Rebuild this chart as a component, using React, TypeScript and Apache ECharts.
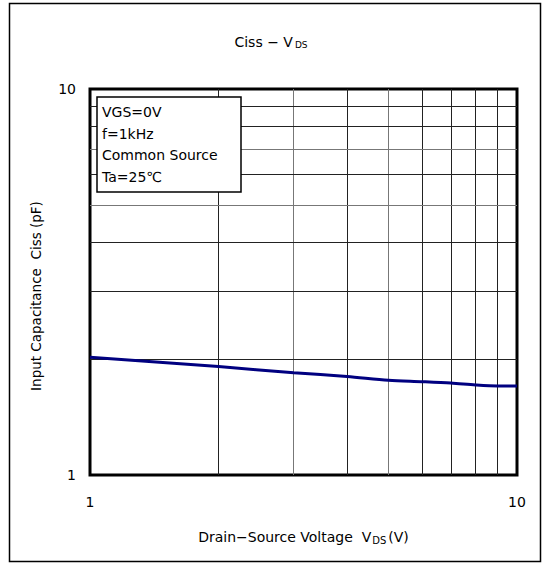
import React, { useEffect, useRef } from "react";
import * as echarts from "echarts";

const vds = [1, 2, 3, 4, 5, 6, 7, 8, 9, 10];
const ciss = [2.02, 1.91, 1.84, 1.8, 1.76, 1.745, 1.73, 1.71, 1.7, 1.7];
const xGrid = [2, 3, 4, 5, 6, 7, 8, 9];
const yGrid = [2, 3, 4, 5, 6, 7, 8, 9];
const legendLines = ["VGS=0V", "f=1kHz", "Common Source", "Ta=25℃"];

const FONT = "DejaVu Sans";

export default function App() {
  const ref = useRef<HTMLDivElement>(null);
  useEffect(() => {
    if (!ref.current) return;
    const chart = echarts.init(ref.current, undefined, { renderer: "svg" });
    chart.setOption({
      animation: false,
      backgroundColor: "#fff",
      textStyle: { fontFamily: FONT, color: "#000" },
      title: {
        text: "Ciss − V{sub|DS}",
        left: "center",
        top: 29,
        textStyle: {
          fontFamily: FONT,
          fontSize: 14,
          fontWeight: "normal",
          color: "#000",
          rich: { sub: { fontSize: 9, verticalAlign: "bottom", padding: [6, 0, 0, 2], fontFamily: FONT } },
        },
      },
      grid: {
        left: 90,
        top: 89,
        right: 25,
        bottom: 89,
        show: true,
        borderColor: "#000",
        borderWidth: 3,
        backgroundColor: "#fff",
      },
      xAxis: {
        type: "log",
        logBase: 10,
        min: 1,
        max: 10,
        name: "Drain−Source Voltage  V{sub|DS}(V)",
        nameLocation: "middle",
        nameGap: 54,
        nameTextStyle: {
          fontFamily: FONT,
          fontSize: 14,
          color: "#000",
          rich: { sub: { fontSize: 10, verticalAlign: "bottom", padding: [6, 2, 0, 1], fontFamily: FONT } },
        },
        axisLine: { show: false },
        axisTick: { show: false },
        splitLine: { show: false },
        axisLabel: { fontFamily: FONT, fontSize: 14, color: "#000", margin: 20 },
      },
      yAxis: {
        type: "log",
        logBase: 10,
        min: 1,
        max: 10,
        name: "Input Capacitance  Ciss (pF)",
        nameLocation: "middle",
        nameGap: 47,
        nameTextStyle: { fontFamily: FONT, fontSize: 13.5, color: "#000", padding: [0, 28, 0, 0] },
        axisLine: { show: false },
        axisTick: { show: false },
        splitLine: { show: false },
        axisLabel: { fontFamily: FONT, fontSize: 14, color: "#000", margin: 14 },
      },
      graphic: [
        {
          type: "rect",
          shape: { x: 9.5, y: 3.5, width: 531, height: 558 },
          style: { fill: "none", stroke: "#000", lineWidth: 1.5 },
          silent: true,
          z: 100,
        },
        {
          type: "rect",
          z: 100,
          shape: { x: 97, y: 97, width: 144, height: 95 },
          style: { fill: "#fff", stroke: "#000", lineWidth: 1.5 },
        },
        ...legendLines.map((t, i) => ({
          type: "text",
          z: 101,
          x: 102,
          y: 112 + i * 21.5,
          style: {
            text: t,
            fontFamily: FONT,
            fontSize: 14,
            fill: "#000",
            verticalAlign: "middle",
          },
        })),
      ],
      series: [
        {
          type: "line",
          data: vds.map((x, i) => [x, ciss[i]]),
          smooth: 0.3,
          symbol: "none",
          lineStyle: { color: "#000080", width: 3 },
          z: 10,
          markLine: {
            silent: true,
            symbol: "none",
            label: { show: false },
            animation: false,
            data: [
              ...xGrid.map((v) => ({ xAxis: v, lineStyle: { color: v === 3 || v === 5 ? "#777" : "#222", width: 1, type: "solid" } })),
              ...yGrid.map((v) => ({ yAxis: v, lineStyle: { color: v === 7 || v === 5 ? "#777" : "#222", width: 1, type: "solid" } })),
            ],
          },
        },
      ],
    });
    return () => chart.dispose();
  }, []);
  return (
    <div
      ref={ref}
      style={{ position: "fixed", left: 0, top: 0, width: 542, height: 564, background: "#fff" }}
    />
  );
}
